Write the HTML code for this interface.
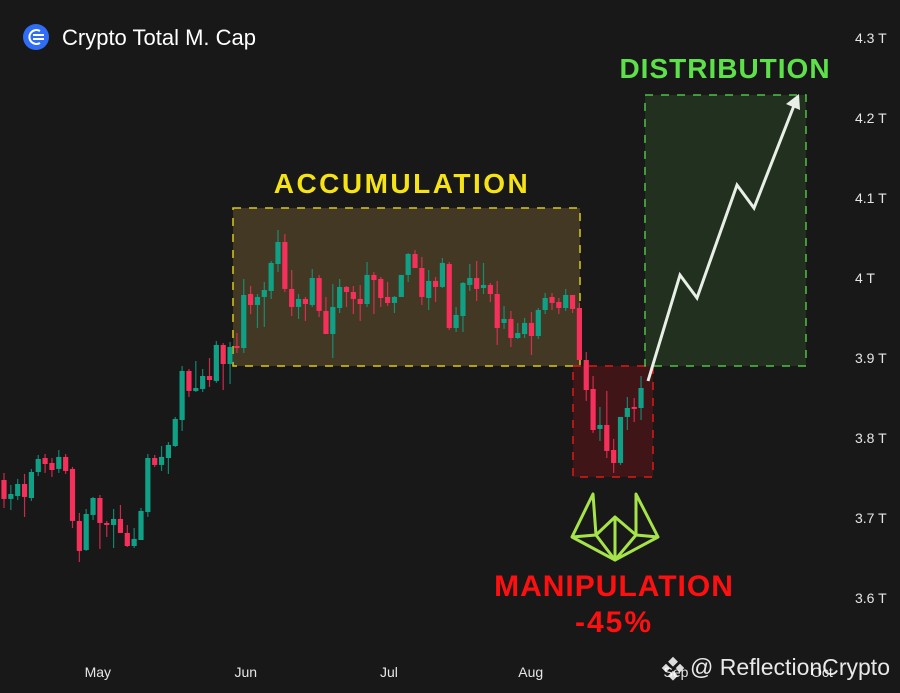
<!DOCTYPE html>
<html><head><meta charset="utf-8">
<style>
html,body{margin:0;padding:0;background:#181818;}
#wrap{position:relative;width:900px;height:693px;overflow:hidden;background:#181818;font-family:"Liberation Sans",sans-serif;}
svg{position:absolute;left:0;top:0;}
</style></head>
<body>
<div id="wrap">
<svg id="chart" width="900" height="693">
  <g id="zones">
    <rect x="233" y="208" width="347" height="158" fill="#433823" stroke="#d8c81a" stroke-width="1.5" stroke-dasharray="8,8"/>
    <rect x="573" y="366" width="80" height="111" fill="#3f1517" stroke="#e01818" stroke-width="1.5" stroke-dasharray="8,8"/>
    <rect x="645" y="95" width="161" height="271" fill="#22301f" stroke="#4fc046" stroke-width="1.5" stroke-dasharray="8,8"/>
  </g>
  <g id="candles"></g>
  <polyline points="648,381 680,275 697,298 737,185 754,208 795,103" fill="none" stroke="#e8efe6" stroke-width="3"/>
  <polygon points="799,94 786,104 800,110" fill="#e8efe6"/>
  <g id="yaxis"></g>
  <g id="xaxis"></g>
  <text x="402" y="193" text-anchor="middle" font-size="28" font-weight="900" fill="#f5e315" font-family="Liberation Sans, sans-serif" letter-spacing="2.5">ACCUMULATION</text>
  <text x="725" y="78" text-anchor="middle" font-size="28" font-weight="900" fill="#5de04a" font-family="Liberation Sans, sans-serif" letter-spacing="1">DISTRIBUTION</text>
  <text x="614" y="596" text-anchor="middle" font-size="30" font-weight="900" fill="#ff1010" font-family="Liberation Sans, sans-serif" letter-spacing="1">MANIPULATION</text>
  <text x="614" y="632" text-anchor="middle" font-size="30" font-weight="900" fill="#ff1010" font-family="Liberation Sans, sans-serif" letter-spacing="2">-45%</text>
  <g fill="none" stroke="#a6e34a" stroke-width="3" stroke-linejoin="round">
    <polyline points="572,537 593,494 596,535 572,537 615,560 658,537 636,535 636,494 658,537"/>
    <polyline points="596,535 615,517 636,535 615,560 596,535"/>
    <line x1="615" y1="517" x2="615" y2="560"/>
  </g>
  <circle cx="36" cy="37" r="13" fill="#2f6df6"/>
  <g stroke="#fff" stroke-width="2" fill="none">
    <path d="M40 31 A7 7 0 1 0 40 43"/><line x1="33" y1="35" x2="44" y2="35"/><line x1="33" y1="39" x2="44" y2="39"/>
  </g>
  <text x="62" y="45" font-size="22" fill="#ffffff" font-family="Liberation Sans, sans-serif">Crypto Total M. Cap</text>
  <text x="690" y="675" font-size="23" fill="#ffffff" fill-opacity="0.9" font-family="Liberation Sans, sans-serif" textLength="200">@ ReflectionCrypto</text>
  <g fill="#ffffff" fill-opacity="0.85">
    <rect x="670" y="658" width="7" height="7" transform="rotate(45 673 661)"/>
    <rect x="663" y="665" width="6" height="6" transform="rotate(45 666 668)"/>
    <rect x="677" y="665" width="6" height="6" transform="rotate(45 680 668)"/>
    <rect x="670" y="672" width="7" height="7" transform="rotate(45 673 675)"/>
  </g>
</svg>
</div>
<script>
const candleOpen=[3.7475,3.7238,3.7275,3.7425,3.725,3.7575,3.775,3.7688,3.7613,3.7763,3.7613,3.6963,3.66,3.7038,3.725,3.6938,3.6913,3.6988,3.6813,3.665,3.6725,3.7075,3.775,3.7663,3.775,3.79,3.8225,3.8838,3.8588,3.8613,3.8775,3.8713,3.9163,3.8925,3.915,3.9125,3.98,3.9663,3.9763,3.9838,4.0175,4.045,3.9863,3.9638,3.9738,3.9663,4.0,3.9588,3.93,3.9625,3.9888,3.9825,3.9738,3.9675,4.0038,3.9988,3.9763,3.9688,3.9763,4.0038,4.03,4.0125,3.975,3.9963,3.9888,4.0175,3.9375,3.9525,3.9913,4.0,3.9875,3.9913,3.98,3.9438,3.9488,3.925,3.93,3.9438,3.9275,3.96,3.9763,3.97,3.9625,3.9788,3.9625,3.8975,3.8613,3.8113,3.8163,3.785,3.7688,3.8263,3.8388,3.8375];
const candleHigh=[3.7563,3.7413,3.7488,3.755,3.7613,3.7788,3.78,3.775,3.785,3.78,3.7638,3.7063,3.7113,3.7263,3.7288,3.6963,3.7113,3.7163,3.6913,3.6875,3.7125,3.78,3.7788,3.79,3.795,3.8263,3.89,3.8863,3.8963,3.8863,3.9,3.9213,3.9188,3.92,3.9313,3.9988,3.99,3.98,3.995,4.0213,4.06,4.055,4.01,3.98,3.9763,4.0113,4.0038,3.9763,3.9925,3.9988,3.99,3.99,3.9913,4.02,4.0075,4.0013,3.995,3.9775,4.0038,4.0313,4.035,4.0263,4.01,4.0013,4.025,4.02,3.9638,3.995,4.0175,4.0213,4.0188,3.9938,3.9963,3.965,3.9588,3.9438,3.95,3.9575,3.9625,3.9813,3.9813,3.975,3.9863,3.9788,3.9688,3.9075,3.8775,3.8388,3.8588,3.7988,3.8263,3.8513,3.85,3.8775];
const candleLow=[3.7125,3.71,3.7225,3.7013,3.7213,3.7525,3.7563,3.7513,3.7563,3.755,3.6875,3.645,3.6588,3.6975,3.6613,3.6763,3.6625,3.6813,3.6638,3.6625,3.6725,3.7013,3.7638,3.7588,3.755,3.7888,3.8088,3.8513,3.8575,3.8575,3.8638,3.8688,3.86,3.8675,3.9063,3.9063,3.955,3.9375,3.9388,3.9738,4.0075,3.9825,3.9525,3.9488,3.9463,3.9638,3.9513,3.9325,3.9,3.9563,3.9638,3.955,3.9463,3.9638,3.955,3.9638,3.965,3.9563,3.9763,3.995,4.0125,3.9663,3.96,3.97,3.9875,3.935,3.9325,3.9325,3.9838,3.9713,3.98,3.97,3.9163,3.9363,3.9138,3.9238,3.925,3.9038,3.9238,3.955,3.96,3.955,3.9588,3.9563,3.8975,3.8463,3.8063,3.7963,3.775,3.7563,3.7663,3.81,3.82,3.8225];
const candleClose=[3.7238,3.73,3.7425,3.7263,3.7575,3.7738,3.7675,3.76,3.7763,3.7588,3.6963,3.6588,3.705,3.725,3.6938,3.6913,3.6988,3.6813,3.665,3.6738,3.7088,3.775,3.7663,3.7763,3.7913,3.8238,3.8838,3.8588,3.8625,3.8775,3.8725,3.9163,3.8925,3.9138,3.9125,3.9788,3.9663,3.9763,3.985,4.0188,4.045,3.9863,3.9638,3.9738,3.9675,4.0,3.9588,3.93,3.9638,3.9888,3.9825,3.9738,3.9675,4.0038,3.9975,3.975,3.9688,3.9763,4.0038,4.03,4.0125,3.9763,3.9963,3.9888,4.0188,3.9375,3.9538,3.9938,4.0,3.9863,3.9913,3.98,3.9375,3.9488,3.925,3.9313,3.9438,3.9275,3.96,3.975,3.9688,3.9625,3.9788,3.9613,3.8975,3.86,3.81,3.8163,3.7838,3.7688,3.8263,3.8375,3.8363,3.8625];
const yTicks=[4.3,4.2,4.1,4.0,3.9,3.8,3.7,3.6];
const yTickLabels=["4.3 T","4.2 T","4.1 T","4 T","3.9 T","3.8 T","3.7 T","3.6 T"];
const monthLabels=["May","Jun","Jul","Aug","Sep","Oct"];
const monthIndex=[13.7,35.3,56.2,76.9,98.1,119.4];

const NS="http://www.w3.org/2000/svg";
function yScale(v){return 38+(4.3-v)*800;}
function xScale(i){return 4+i*6.85;}

const cg=document.getElementById('candles');
for(let i=0;i<candleOpen.length;i++){
  const o=candleOpen[i],h=candleHigh[i],l=candleLow[i],c=candleClose[i];
  const up=c>=o;
  const col=up?'#10a085':'#f5305a';
  const x=xScale(i);
  const g=document.createElementNS(NS,'g');
  
  
  const w=document.createElementNS(NS,'line');
  w.setAttribute('x1',x);w.setAttribute('x2',x);
  w.setAttribute('y1',yScale(h));w.setAttribute('y2',yScale(l));
  w.setAttribute('stroke',col);w.setAttribute('stroke-width','1.2');w.setAttribute('opacity','0.8');
  
  
  const b=document.createElementNS(NS,'rect');
  const top=yScale(Math.max(o,c)),bot=yScale(Math.min(o,c));
  b.setAttribute('x',x-2.6);b.setAttribute('width',5.2);
  b.setAttribute('y',top);b.setAttribute('height',Math.max(1.5,bot-top));
  b.setAttribute('fill',col);
  
  
  g.appendChild(w);g.appendChild(b);cg.appendChild(g);
}
const yg=document.getElementById('yaxis');
yTicks.forEach((v,i)=>{
  const t=document.createElementNS(NS,'text');
  t.setAttribute('x',855);t.setAttribute('y',yScale(v)+5);
  t.setAttribute('font-size','14');t.setAttribute('fill','#e6e6e6');
  t.setAttribute('font-family','Liberation Sans, sans-serif');
  t.textContent=yTickLabels[i];
  
  
  yg.appendChild(t);
});
const xg=document.getElementById('xaxis');
monthLabels.forEach((m,i)=>{
  const t=document.createElementNS(NS,'text');
  t.setAttribute('x',xScale(monthIndex[i]));t.setAttribute('y',677);
  t.setAttribute('text-anchor','middle');
  t.setAttribute('font-size','14');t.setAttribute('fill','#e6e6e6');
  t.setAttribute('font-family','Liberation Sans, sans-serif');
  t.textContent=m;
  
  
  xg.appendChild(t);
});
</script>
</body></html>
